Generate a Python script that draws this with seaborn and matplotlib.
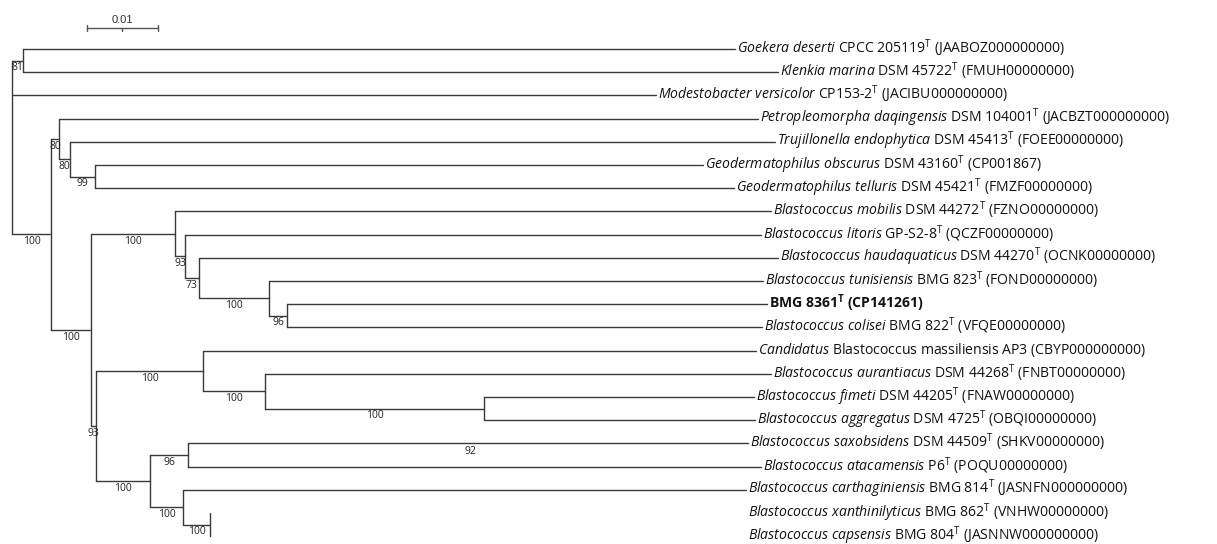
import pandas as pd
import matplotlib.pyplot as plt
import seaborn as sns

# ==================================================
# TREE DATA (branch lengths in substitutions/site)
# ==================================================

taxa = [
    r"$\mathit{Goekera\ deserti}$ CPCC 205119$^{\mathrm{T}}$ (JAABOZ000000000)",
    r"$\mathit{Klenkia\ marina}$ DSM 45722$^{\mathrm{T}}$ (FMUH00000000)",
    r"$\mathit{Modestobacter\ versicolor}$ CP153-2$^{\mathrm{T}}$ (JACIBU000000000)",
    r"$\mathit{Petropleomorpha\ daqingensis}$ DSM 104001$^{\mathrm{T}}$ (JACBZT000000000)",
    r"$\mathit{Trujillonella\ endophytica}$ DSM 45413$^{\mathrm{T}}$ (FOEE00000000)",
    r"$\mathit{Geodermatophilus\ obscurus}$ DSM 43160$^{\mathrm{T}}$ (CP001867)",
    r"$\mathit{Geodermatophilus\ telluris}$ DSM 45421$^{\mathrm{T}}$ (FMZF00000000)",
    r"$\mathit{Blastococcus\ mobilis}$ DSM 44272$^{\mathrm{T}}$ (FZNO00000000)",
    r"$\mathit{Blastococcus\ litoris}$ GP-S2-8$^{\mathrm{T}}$ (QCZF00000000)",
    r"$\mathit{Blastococcus\ haudaquaticus}$ DSM 44270$^{\mathrm{T}}$ (OCNK00000000)",
    r"$\mathit{Blastococcus\ tunisiensis}$ BMG 823$^{\mathrm{T}}$ (FOND00000000)",
    r"BMG 8361$^{\mathbf{T}}$ (CP141261)",
    r"$\mathit{Blastococcus\ colisei}$ BMG 822$^{\mathrm{T}}$ (VFQE00000000)",
    r"$\mathit{Candidatus}$ Blastococcus massiliensis AP3 (CBYP000000000)",
    r"$\mathit{Blastococcus\ aurantiacus}$ DSM 44268$^{\mathrm{T}}$ (FNBT00000000)",
    r"$\mathit{Blastococcus\ fimeti}$ DSM 44205$^{\mathrm{T}}$ (FNAW00000000)",
    r"$\mathit{Blastococcus\ aggregatus}$ DSM 4725$^{\mathrm{T}}$ (OBQI00000000)",
    r"$\mathit{Blastococcus\ saxobsidens}$ DSM 44509$^{\mathrm{T}}$ (SHKV00000000)",
    r"$\mathit{Blastococcus\ atacamensis}$ P6$^{\mathrm{T}}$ (POQU00000000)",
    r"$\mathit{Blastococcus\ carthaginiensis}$ BMG 814$^{\mathrm{T}}$ (JASNFN000000000)",
    r"$\mathit{Blastococcus\ xanthinilyticus}$ BMG 862$^{\mathrm{T}}$ (VNHW00000000)",
    r"$\mathit{Blastococcus\ capsensis}$ BMG 804$^{\mathrm{T}}$ (JASNNW000000000)",
]
taxon_parent = ["A", "A", "root", "C", "E", "F", "F", "G", "K", "L", "M",
                "N", "N", "I", "O", "P", "P", "Q", "Q", "R", "S", "S"]
taxon_length = [0.10028, 0.10634, 0.09070, 0.09845, 0.09930, 0.08563, 0.09000,
                0.08394, 0.08113, 0.08155, 0.06958, 0.06761, 0.06690, 0.07789,
                0.07127, 0.03803, 0.03817, 0.07887, 0.08070, 0.07930, 0.07549,
                0.07549]
bold_taxa = [11]
no_branch = [20, 21]

node_names = ["A", "B", "C", "E", "F", "D", "G", "K", "L", "M", "N",
              "H", "I", "O", "P", "J", "Q", "R", "S"]
node_parent = ["root", "root", "B", "C", "E", "B", "D", "G", "K", "L", "M",
               "D", "H", "I", "O", "H", "J", "J", "R"]
node_length = [0.00155, 0.00549, 0.00113, 0.00155, 0.00352, 0.00563, 0.01183,
               0.00141, 0.00197, 0.00986, 0.00254, 0.00070, 0.01507, 0.00873,
               0.03085, 0.00761, 0.00535, 0.00465, 0.00380]
node_support = [81, 100, 80, 80, 99, 100, 100, 93, 73, 100, 96,
                93, 100, 100, 100, 100, 96, 100, 100]

extra_support = [("92", 0.0646, 17.37)]
scale_length = 0.01

# ==================================================
# LAYOUT: X FROM BRANCH LENGTHS, Y FROM LEAF ORDER
# ==================================================

parent = dict(zip(node_names, node_parent))
length = dict(zip(node_names, node_length))

def depth(name):
    if name == "root":
        return 0.0
    return depth(parent[name]) + length[name]

node_x = {n: depth(n) for n in node_names}
node_x["root"] = 0.0

children_y = {}
for i, p in enumerate(taxon_parent):
    children_y.setdefault(p, []).append(i)

node_y = {}
def get_y(name):
    if name in node_y:
        return node_y[name]
    ys = list(children_y.get(name, []))
    for n, p in zip(node_names, node_parent):
        if p == name:
            ys.append(get_y(n))
    node_y[name] = (min(ys) + max(ys)) / 2
    return node_y[name]

for n in ["root"] + node_names:
    get_y(n)

segs = []
def add_seg(x0, y0, x1, y1):
    k = len(segs) // 2
    segs.append({"seg": k, "x": x0, "y": y0})
    segs.append({"seg": k, "x": x1, "y": y1})

# horizontal branches to internal nodes
for n in node_names:
    p = parent[n]
    add_seg(node_x[p], node_y[n], node_x[n], node_y[n])

# vertical connectors
for n in ["root"] + node_names:
    ys = list(children_y.get(n, [])) + [node_y[c] for c, p in zip(node_names, node_parent) if p == n]
    add_seg(node_x[n], min(ys), node_x[n], max(ys))

# leaf branches
leaf_x = []
for i, (p, bl) in enumerate(zip(taxon_parent, taxon_length)):
    x_end = node_x[p] + bl
    leaf_x.append(x_end)
    if i not in no_branch:
        add_seg(node_x[p], i, x_end, i)

seg_df = pd.DataFrame(segs)

# ==================================================
# PLOT
# ==================================================

sns.set_theme(style="white")
plt.rcParams["font.family"] = ["Open Sans", "DejaVu Sans"]
plt.rcParams["mathtext.fontset"] = "custom"
plt.rcParams["mathtext.rm"] = "Open Sans"
plt.rcParams["mathtext.it"] = "Open Sans:italic"
plt.rcParams["mathtext.bf"] = "Open Sans:bold"

fig = plt.figure(figsize=(12.17, 5.44), dpi=100)
ax = fig.add_axes([0, 0, 1, 1])

sns.lineplot(data=seg_df, x="x", y="y", units="seg", estimator=None, sort=False,
             color="#3a3a3a", linewidth=1.0, ax=ax, legend=False)

# taxon labels
for i, (lab, x) in enumerate(zip(taxa, leaf_x)):
    ax.text(x + 0.0003, i - 0.03, lab, fontsize=10.1, va="center", ha="left", color="#111111",
            fontweight="bold" if i in bold_taxa else "normal")

# bootstrap values, centred under each internal branch
for n, s in zip(node_names, node_support):
    xm = (node_x[parent[n]] + node_x[n]) / 2
    ax.text(xm, node_y[n] + 0.31, str(s), fontsize=7.5, ha="center", va="center",
            color="#222222")
for s, x, y in extra_support:
    ax.text(x, y, s, fontsize=7.5, ha="center", va="center", color="#222222")

# scale bar
sb_x0, sb_y = 0.01056, -0.905
ax.plot([sb_x0, sb_x0 + scale_length], [sb_y, sb_y], color="#555555", lw=1.0)
for xt, h in [(sb_x0, 0.12), (sb_x0 + scale_length, 0.12), (sb_x0 + scale_length / 2, 0.0)]:
    ax.plot([xt, xt], [sb_y - h, sb_y + 0.12], color="#555555", lw=1.0)
ax.text(sb_x0 + scale_length / 2, -1.27, "0.01", fontsize=8, ha="center", va="center",
        color="#333333", family=["Liberation Sans"])

ax.set_xlim(-12 / 7100, 1205 / 7100)
ax.set_ylim(21.34, -2.112)
ax.axis("off")

plt.savefig("out.png", dpi=100)
